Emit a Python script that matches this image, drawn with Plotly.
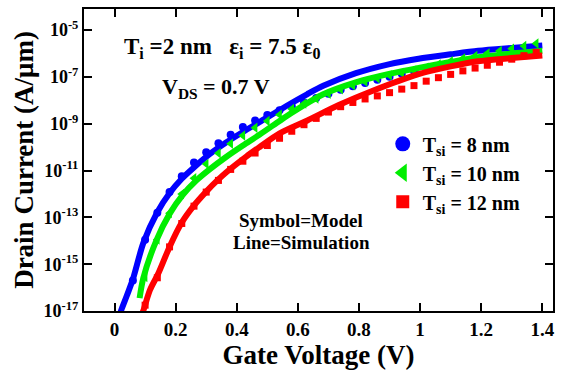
import numpy as np
import plotly.graph_objects as go

# ---- Simulation curves: gate voltage (V) and log10 of drain current (A/um) ----
sim8_v = [0.015, 0.021, 0.040, 0.061, 0.094, 0.139, 0.181, 0.220, 0.257, 0.311, 0.365,
          0.420, 0.474, 0.561, 0.630, 0.683, 0.790, 0.897, 0.995, 1.100, 1.190, 1.300, 1.400]
sim8_log = [-17.3, -17.0, -16.35, -15.6, -14.1, -12.8, -11.95, -11.35, -10.9, -10.3, -9.8,
            -9.35, -8.93, -8.25, -7.74, -7.38, -6.84, -6.46, -6.22, -6.03, -5.88, -5.76, -5.66]

sim10_v = [0.082, 0.094, 0.137, 0.181, 0.224, 0.268, 0.311, 0.365, 0.420, 0.474, 0.540,
           0.574, 0.683, 0.792, 0.902, 1.000, 1.100, 1.190, 1.300, 1.400]
sim10_log = [-16.45, -15.6, -13.98, -12.83, -12.03, -11.42, -10.95, -10.42, -9.93, -9.47, -8.88,
             -8.58, -7.74, -7.22, -6.86, -6.6, -6.36, -6.16, -6.0, -5.88]

sim12_v = [0.085, 0.094, 0.116, 0.143, 0.181, 0.219, 0.257, 0.300, 0.338, 0.365, 0.431,
           0.474, 0.539, 0.631, 0.734, 0.843, 0.995, 1.100, 1.190, 1.300, 1.400]
sim12_log = [-17.3, -16.99, -16.1, -15.4, -14.23, -13.24, -12.54, -11.9, -11.4, -11.08, -10.4,
             -10.0, -9.42, -8.86, -8.2, -7.6, -6.88, -6.55, -6.33, -6.19, -6.08]

# ---- Model points ----
model8_v = [0.06, 0.10, 0.14, 0.18, 0.22, 0.26, 0.30, 0.34, 0.38, 0.42, 0.46, 0.50,
            0.54, 0.58, 0.62, 0.66, 0.70, 0.74, 0.78, 0.82, 0.86, 0.90, 0.94, 0.98,
            1.02, 1.06, 1.10, 1.14, 1.18, 1.22, 1.26, 1.30, 1.34, 1.38]
model8_log = [-15.7, -13.96, -12.8, -11.92, -11.24, -10.66, -10.22, -9.83, -9.47, -9.14, -8.86, -8.62,
              -8.42, -8.25, -8.09, -7.9, -7.72, -7.55, -7.4, -7.26, -7.12, -6.99, -6.86, -6.74,
              -6.63, -6.53, -6.44, -6.35, -6.26, -6.18, -6.1, -6.02, -5.94, -5.86]

model10_v = [0.10, 0.14, 0.18, 0.22, 0.26, 0.30, 0.34, 0.38, 0.42, 0.46, 0.50,
             0.54, 0.58, 0.62, 0.66, 0.70, 0.74, 0.78, 0.82, 0.86, 0.90, 0.94, 0.98,
             1.02, 1.06, 1.10, 1.14, 1.18, 1.22, 1.26, 1.30, 1.34, 1.38]
model10_log = [-15.55, -13.95, -12.82, -12.0, -11.33, -10.72, -10.26, -9.85, -9.5, -9.17, -8.88,
               -8.61, -8.37, -8.14, -7.92, -7.72, -7.53, -7.36, -7.2, -7.06, -6.93, -6.83, -6.72,
               -6.6, -6.46, -6.33, -6.21, -6.1, -5.99, -5.89, -5.79, -5.68, -5.57]

model12_v = [0.10, 0.14, 0.18, 0.22, 0.26, 0.30, 0.34, 0.38, 0.42, 0.46, 0.50,
             0.54, 0.58, 0.62, 0.66, 0.70, 0.74, 0.78, 0.82, 0.86, 0.90, 0.94, 0.98,
             1.02, 1.06, 1.10, 1.14, 1.18, 1.22, 1.26, 1.30, 1.34, 1.38]
model12_log = [-16.75, -15.58, -14.26, -13.26, -12.52, -11.92, -11.42, -10.95, -10.6, -10.25, -9.93,
               -9.62, -9.32, -9.04, -8.77, -8.5, -8.27, -8.09, -7.94, -7.81, -7.67, -7.52, -7.37,
               -7.18, -7.03, -6.89, -6.74, -6.62, -6.5, -6.37, -6.24, -6.09, -5.95]

series_names = ["T<sub>si</sub> = 8 nm", "T<sub>si</sub> = 10 nm", "T<sub>si</sub> = 12 nm"]
series_colors = ["#0000ff", "#00ee00", "#ff0000"]
series_symbols = ["circle", "triangle-left", "square"]

y_tick_exp = [-5, -7, -9, -11, -13, -15, -17]
x_ticks = [0, 0.2, 0.4, 0.6, 0.8, 1.0, 1.2, 1.4]
x_tick_text = ["0", "0.2", "0.4", "0.6", "0.8", "1", "1.2", "1.4"]

FONT = "Liberation Serif"

sims = [(sim8_v, sim8_log), (sim10_v, sim10_log), (sim12_v, sim12_log)]
models = [(model8_v, model8_log), (model10_v, model10_log), (model12_v, model12_log)]
marker_sizes = [8, 9, 7]
legend_sizes = [15, 16, 13]

fig = go.Figure()

for i in range(3):
    mv, ml = models[i]
    sv, sl = sims[i]
    fig.add_trace(go.Scatter(
        x=mv, y=10.0 ** np.array(ml), mode="markers", showlegend=False,
        marker=dict(symbol=series_symbols[i], size=marker_sizes[i],
                    color=series_colors[i], line=dict(width=0)),
    ))
    fig.add_trace(go.Scatter(
        x=sv, y=10.0 ** np.array(sl), mode="lines", showlegend=False,
        line=dict(color=series_colors[i], width=6, shape="spline", smoothing=0.8),
    ))

# legend entries (symbol only)
for i in range(3):
    fig.add_trace(go.Scatter(
        x=[None], y=[None], mode="markers", name=series_names[i],
        marker=dict(symbol=series_symbols[i], size=legend_sizes[i],
                    color=series_colors[i], line=dict(width=0)),
    ))

axis_common = dict(
    showline=True, linecolor="black", linewidth=2, mirror="ticks",
    ticks="inside", ticklen=8, tickwidth=2, tickcolor="black",
    showgrid=False, zeroline=False,
)

fig.update_layout(
    width=562, height=372,
    margin=dict(l=84, r=7, t=8, b=60),
    paper_bgcolor="white", plot_bgcolor="white",
    font=dict(family=FONT, color="black", size=18, weight="bold"),
    xaxis=dict(
        range=[-0.1, 1.435], tickvals=x_ticks, ticktext=x_tick_text,
        tickfont=dict(size=19, family=FONT, weight="bold"),
        title=dict(text="Gate Voltage (V)", font=dict(size=27, family=FONT, weight="bold"),
                   standoff=6),
        **axis_common,
    ),
    yaxis=dict(
        type="log", range=[-17, -4.096],
        tickvals=[10.0 ** e for e in y_tick_exp],
        ticktext=["10<sup>%d</sup>" % e for e in y_tick_exp],
        tickfont=dict(size=18, family=FONT, weight="bold"),
        title=dict(text="Drain Current (A/\u03bcm)", font=dict(size=27, family=FONT, weight="bold"),
                   standoff=2),
        **axis_common,
    ),
    legend=dict(
        x=0.637, y=0.618, xanchor="left", yanchor="top",
        bgcolor="rgba(0,0,0,0)", borderwidth=0,
        font=dict(size=20, family=FONT, weight="bold"),
        itemsizing="trace",
    ),
    annotations=[
        dict(text="T<sub>i</sub> =2 nm   \u03b5<sub>i</sub> = 7.5 \u03b5<sub>0</sub>",
             x=0.081, y=0.872, xref="paper", yref="paper", xanchor="left", yanchor="middle",
             showarrow=False, font=dict(size=23, family=FONT, weight="bold")),
        dict(text="V<sub>DS</sub> = 0.7 V",
             x=0.161, y=0.740, xref="paper", yref="paper", xanchor="left", yanchor="middle",
             showarrow=False, font=dict(size=22, family=FONT, weight="bold")),
        dict(text="Symbol=Model",
             x=0.463, y=0.300, xref="paper", yref="paper", xanchor="center", yanchor="middle",
             showarrow=False, font=dict(size=19, family=FONT, weight="bold")),
        dict(text="Line=Simulation",
             x=0.463, y=0.227, xref="paper", yref="paper", xanchor="center", yanchor="middle",
             showarrow=False, font=dict(size=19, family=FONT, weight="bold")),
    ],
)

fig.write_html("out.html")
